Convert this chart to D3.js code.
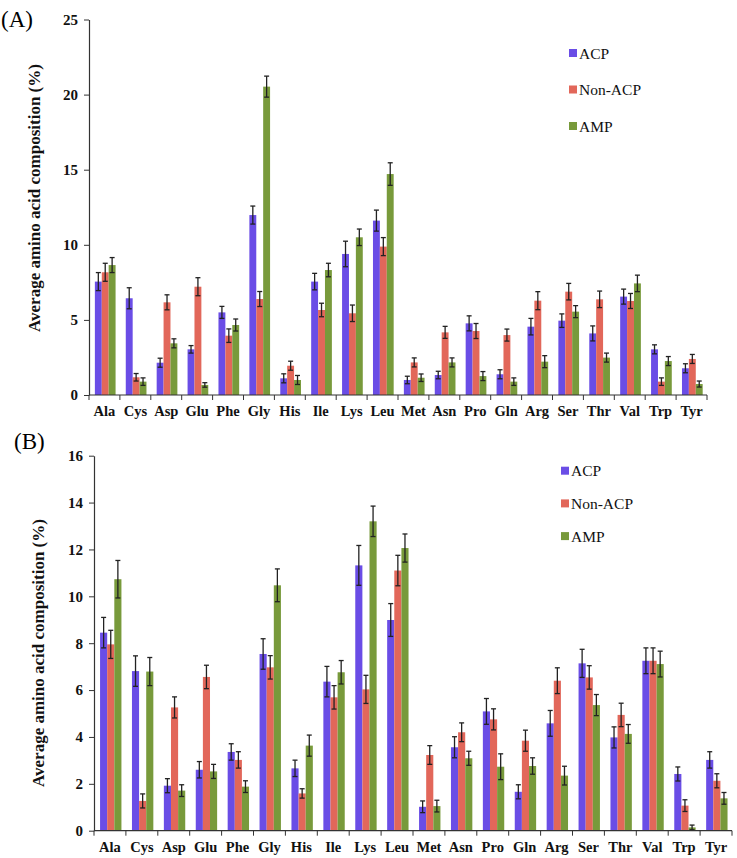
<!DOCTYPE html>
<html>
<head>
<meta charset="utf-8">
<script src="https://cdn.jsdelivr.net/npm/d3@7"></script>
<style>
  body { margin: 0; background: #fff; }
  svg, svg text { font-family: "Liberation Serif", "Times New Roman", "DejaVu Serif", serif !important; }
</style>
</head>
<body>
<div id="chart"></div>
<script>
"use strict";

var aminoAcids = ["Ala", "Cys", "Asp", "Glu", "Phe", "Gly", "His", "Ile", "Lys", "Leu",
    "Met", "Asn", "Pro", "Gln", "Arg", "Ser", "Thr", "Val", "Trp", "Tyr"];
var seriesNames = ["ACP", "Non-ACP", "AMP"];
var seriesColors = ["#6a4de6", "#e2675a", "#789a3b"];

// panel A
var acpA = [7.55, 6.44, 2.15, 3.04, 5.5, 11.98, 1.11, 7.55, 9.39, 11.61,
    1.0, 1.33, 4.77, 1.38, 4.55, 4.95, 4.1, 6.55, 3.04, 1.78];
var acpAErr = [0.6, 0.7, 0.3, 0.25, 0.4, 0.6, 0.3, 0.55, 0.85, 0.7,
    0.25, 0.25, 0.5, 0.3, 0.55, 0.45, 0.5, 0.5, 0.3, 0.3];
var nonA = [8.17, 1.18, 6.17, 7.21, 3.95, 6.39, 1.95, 5.66, 5.44, 9.88,
    2.17, 4.17, 4.26, 3.99, 6.28, 6.88, 6.37, 6.26, 0.89, 2.4];
var nonAErr = [0.6, 0.25, 0.5, 0.6, 0.45, 0.5, 0.3, 0.45, 0.55, 0.6,
    0.3, 0.4, 0.5, 0.4, 0.6, 0.55, 0.55, 0.5, 0.25, 0.3];
var ampA = [8.65, 0.89, 3.44, 0.67, 4.66, 20.53, 1.0, 8.32, 10.5, 14.71,
    1.15, 2.17, 1.26, 0.89, 2.22, 5.55, 2.49, 7.43, 2.26, 0.73];
var ampAErr = [0.5, 0.25, 0.3, 0.15, 0.4, 0.7, 0.3, 0.45, 0.55, 0.75,
    0.25, 0.3, 0.3, 0.25, 0.4, 0.4, 0.3, 0.55, 0.3, 0.2];

// panel B
var acpB = [8.45, 6.81, 1.92, 2.6, 3.36, 7.54, 2.66, 6.36, 11.32, 8.99,
    1.02, 3.56, 5.09, 1.66, 4.58, 7.14, 3.98, 7.25, 2.42, 3.02];
var acpBErr = [0.65, 0.65, 0.3, 0.35, 0.35, 0.65, 0.35, 0.65, 0.85, 0.7,
    0.25, 0.45, 0.55, 0.3, 0.55, 0.6, 0.45, 0.55, 0.3, 0.35];
var nonB = [7.95, 1.27, 5.26, 6.56, 3.02, 6.97, 1.59, 5.69, 6.03, 11.1,
    3.23, 4.2, 4.75, 3.84, 6.4, 6.54, 4.94, 7.25, 1.07, 2.13];
var nonBErr = [0.6, 0.3, 0.45, 0.5, 0.35, 0.5, 0.2, 0.5, 0.6, 0.65,
    0.4, 0.4, 0.45, 0.45, 0.55, 0.5, 0.5, 0.55, 0.25, 0.3];
var ampB = [10.73, 6.79, 1.71, 2.53, 1.88, 10.47, 3.63, 6.76, 13.2, 12.06,
    1.05, 3.09, 2.73, 2.76, 2.35, 5.36, 4.13, 7.11, 0.14, 1.38];
var ampBErr = [0.8, 0.6, 0.25, 0.3, 0.25, 0.7, 0.45, 0.5, 0.65, 0.6,
    0.25, 0.3, 0.55, 0.35, 0.4, 0.45, 0.4, 0.55, 0.1, 0.25];

var ticksA = [0, 5, 10, 15, 20, 25];
var ticksB = [0, 2, 4, 6, 8, 10, 12, 14, 16];

var serif = "'Liberation Serif', 'Times New Roman', serif";

var svg = d3.select("#chart").append("svg")
    .attr("width", 737)
    .attr("height", 858)
    .attr("font-family", serif);

function drawPanel(p) {
    var g = svg.append("g");

    var x = d3.scaleBand().domain(aminoAcids).range([p.left, p.right]).padding(0);
    var xs = d3.scaleBand().domain(seriesNames)
        .range([x.bandwidth() * 0.19, x.bandwidth() * 0.86]);
    var y = d3.scaleLinear().domain([0, p.max]).range([p.bottom, p.top]);

    var rows = [];
    aminoAcids.forEach(function (aa, i) {
        p.values.forEach(function (vals, s) {
            rows.push({ aa: aa, s: s, v: vals[i], e: p.errors[s][i] });
        });
    });

    g.append("g").selectAll("rect")
        .data(rows)
        .join("rect")
        .attr("x", function (d) { return x(d.aa) + xs(seriesNames[d.s]); })
        .attr("y", function (d) { return y(d.v); })
        .attr("width", xs.bandwidth())
        .attr("height", function (d) { return y(0) - y(d.v); })
        .attr("fill", function (d) { return seriesColors[d.s]; });

    // error bars
    var eb = g.append("g").attr("stroke", "#222").attr("stroke-width", 1.3)
        .selectAll("g").data(rows).join("g")
        .attr("transform", function (d) {
            return "translate(" + (x(d.aa) + xs(seriesNames[d.s]) + xs.bandwidth() / 2) + ",0)";
        });
    eb.append("line")
        .attr("y1", function (d) { return y(d.v - d.e); })
        .attr("y2", function (d) { return y(d.v + d.e); });
    eb.append("line").attr("x1", -2.5).attr("x2", 2.5)
        .attr("y1", function (d) { return y(d.v + d.e); })
        .attr("y2", function (d) { return y(d.v + d.e); });
    eb.append("line").attr("x1", -2.5).attr("x2", 2.5)
        .attr("y1", function (d) { return y(d.v - d.e); })
        .attr("y2", function (d) { return y(d.v - d.e); });

    // y axis
    var yAxis = g.append("g")
        .attr("transform", "translate(" + p.left + ",0)")
        .call(d3.axisLeft(y).tickValues(p.ticks).tickSize(5).tickSizeOuter(0).tickPadding(6));
    yAxis.attr("font-family", serif);
    yAxis.select(".domain").attr("stroke", "#333").attr("stroke-width", 1.2);
    yAxis.selectAll(".tick line").attr("stroke", "#333");
    yAxis.selectAll("text")
        .attr("font-size", 15).attr("font-weight", "bold").attr("fill", "#111");

    // x axis, ticks on category boundaries
    var xAxis = g.append("g")
        .attr("transform", "translate(0," + p.bottom + ")");
    xAxis.append("line")
        .attr("x1", p.left).attr("x2", p.right)
        .attr("stroke", "#333").attr("stroke-width", 1.2);
    xAxis.selectAll(".bound").data(aminoAcids)
        .join("line").attr("class", "bound")
        .attr("x1", function (d) { return x(d) + x.bandwidth(); })
        .attr("x2", function (d) { return x(d) + x.bandwidth(); })
        .attr("y1", 0).attr("y2", 5)
        .attr("stroke", "#333");
    xAxis.append("line").attr("x1", p.left).attr("x2", p.left)
        .attr("y1", 0).attr("y2", 5).attr("stroke", "#333");
    xAxis.selectAll(".lab").data(aminoAcids)
        .join("text").attr("class", "lab")
        .attr("x", function (d) { return x(d) + x.bandwidth() / 2; })
        .attr("y", 21)
        .attr("text-anchor", "middle")
        .attr("font-size", 14.5).attr("font-weight", "bold").attr("fill", "#111")
        .text(function (d) { return d; });

    // y title
    g.append("text")
        .attr("transform", "translate(" + p.titleX + "," + p.titleY + ") rotate(-90)")
        .attr("text-anchor", "middle")
        .attr("font-size", 17).attr("font-weight", "bold").attr("fill", "#111")
        .text("Average amino acid composition (%)");

    // panel letter
    g.append("text")
        .attr("x", p.letterX).attr("y", p.letterY)
        .attr("font-size", 23).attr("fill", "#000")
        .text(p.letter);

    // legend
    var leg = g.append("g").selectAll("g").data(seriesNames).join("g")
        .attr("transform", function (d, i) {
            return "translate(" + p.legX + "," + (p.legY + i * p.legStep) + ")";
        });
    leg.append("rect").attr("x", 0).attr("y", -4).attr("width", 8).attr("height", 8)
        .attr("fill", function (d, i) { return seriesColors[i]; });
    leg.append("text").attr("x", 10).attr("y", 5.5)
        .attr("font-size", 15.5).attr("fill", "#111")
        .text(function (d) { return d; });
}

drawPanel({
    letter: "(A)", letterX: 1, letterY: 27,
    left: 89, right: 707, top: 19.5, bottom: 395, max: 25, ticks: ticksA,
    values: [acpA, nonA, ampA], errors: [acpAErr, nonAErr, ampAErr],
    titleX: 40, titleY: 198,
    legX: 569, legY: 53, legStep: 36.5
});

drawPanel({
    letter: "(B)", letterX: 14, letterY: 449,
    left: 94, right: 732, top: 455.7, bottom: 830.7, max: 16, ticks: ticksB,
    values: [acpB, nonB, ampB], errors: [acpBErr, nonBErr, ampBErr],
    titleX: 44, titleY: 653,
    legX: 561, legY: 470.7, legStep: 32.7
});
</script>
</body>
</html>
